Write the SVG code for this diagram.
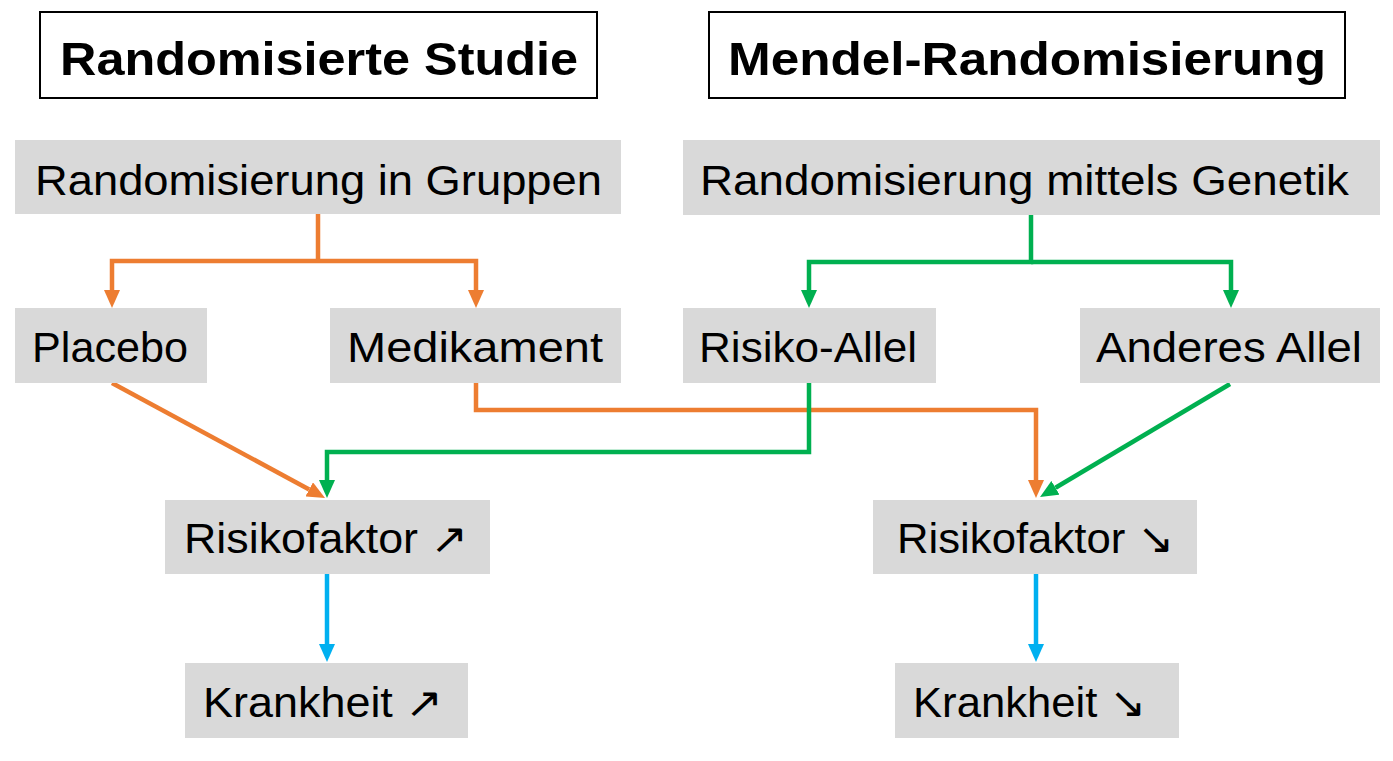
<svg xmlns="http://www.w3.org/2000/svg" width="1393" height="761" viewBox="0 0 1393 761">
<style>
.title{fill:#fff;stroke:#000;stroke-width:2}
.box{fill:#d9d9d9}
.tt{font-family:"Liberation Sans","DejaVu Sans",sans-serif;font-weight:bold;font-size:46px;fill:#000}
.t{font-family:"Liberation Sans","DejaVu Sans",sans-serif;font-size:42px;fill:#000}
.c{fill:none;stroke-width:4.5;stroke-linejoin:miter}
.o{stroke:#ed7d31;marker-end:url(#ao)}
.g{stroke:#00b050;marker-end:url(#ag)}
.b{stroke:#00b0f0;marker-end:url(#ab)}
</style>
<defs>
<marker id="ao" viewBox="0 0 18 16" markerWidth="18" markerHeight="16" markerUnits="userSpaceOnUse" refX="0" refY="8" orient="auto"><path d="M0,0 L18,8 L0,16 z" fill="#ed7d31"/></marker>
<marker id="ag" viewBox="0 0 18 16" markerWidth="18" markerHeight="16" markerUnits="userSpaceOnUse" refX="0" refY="8" orient="auto"><path d="M0,0 L18,8 L0,16 z" fill="#00b050"/></marker>
<marker id="ab" viewBox="0 0 18 16" markerWidth="18" markerHeight="16" markerUnits="userSpaceOnUse" refX="0" refY="8" orient="auto"><path d="M0,0 L18,8 L0,16 z" fill="#00b0f0"/></marker>
</defs>
<rect width="1393" height="761" fill="#fff"/>

<g id="title-rct"><rect class="title" x="40" y="12" width="557" height="86"/><text class="tt" x="60" y="75" textLength="518" lengthAdjust="spacingAndGlyphs">Randomisierte Studie</text></g>
<g id="title-mr"><rect class="title" x="709" y="12" width="636" height="86"/><text class="tt" x="728" y="75" textLength="598" lengthAdjust="spacingAndGlyphs">Mendel-Randomisierung</text></g>

<g id="connectors">
<path class="c o" d="M318,214 V261 M318,261 H112 V290"/>
<path class="c o" d="M318,261 H476 V290"/>
<path class="c o" d="M112,383 L309.2,489.4"/>
<path class="c o" d="M476,383 V410 H1036 V480"/>
<path class="c g" d="M1031,215 V262 H809 V290"/>
<path class="c g" d="M1031,262 H1231 V290"/>
<path class="c g" d="M809,383 V452 H327 V480"/>
<path class="c g" d="M1230,384 L1055.5,487.8"/>
<path class="c b" d="M327,574 V644"/>
<path class="c b" d="M1036,574 V644"/>
</g>

<g id="n-gruppen"><rect class="box" x="15" y="140" width="606" height="74"/><text class="t" x="35" y="195" textLength="567" lengthAdjust="spacingAndGlyphs">Randomisierung in Gruppen</text></g>
<g id="n-genetik"><rect class="box" x="683" y="140" width="697" height="75"/><text class="t" x="700" y="195" textLength="649" lengthAdjust="spacingAndGlyphs">Randomisierung mittels Genetik</text></g>
<g id="n-placebo"><rect class="box" x="15" y="308" width="192" height="75"/><text class="t" x="32" y="362" textLength="156" lengthAdjust="spacingAndGlyphs">Placebo</text></g>
<g id="n-medikament"><rect class="box" x="330" y="308" width="291" height="75"/><text class="t" x="347" y="362" textLength="256" lengthAdjust="spacingAndGlyphs">Medikament</text></g>
<g id="n-risikoallel"><rect class="box" x="683" y="308" width="253" height="75"/><text class="t" x="699" y="362" textLength="218" lengthAdjust="spacingAndGlyphs">Risiko-Allel</text></g>
<g id="n-anderesallel"><rect class="box" x="1080" y="308" width="300" height="75"/><text class="t" x="1096" y="362" textLength="266" lengthAdjust="spacingAndGlyphs">Anderes Allel</text></g>
<g id="n-rf-up"><rect class="box" x="165" y="500" width="325" height="74"/><text class="t" x="184" y="553" textLength="284" lengthAdjust="spacingAndGlyphs">Risikofaktor ↗</text></g>
<g id="n-rf-down"><rect class="box" x="873" y="500" width="324" height="74"/><text class="t" x="897" y="553" textLength="277" lengthAdjust="spacingAndGlyphs">Risikofaktor ↘</text></g>
<g id="n-kr-up"><rect class="box" x="185" y="663" width="283" height="75"/><text class="t" x="203" y="717" textLength="240" lengthAdjust="spacingAndGlyphs">Krankheit ↗</text></g>
<g id="n-kr-down"><rect class="box" x="895" y="663" width="284" height="75"/><text class="t" x="913" y="717" textLength="233" lengthAdjust="spacingAndGlyphs">Krankheit ↘</text></g>
</svg>
